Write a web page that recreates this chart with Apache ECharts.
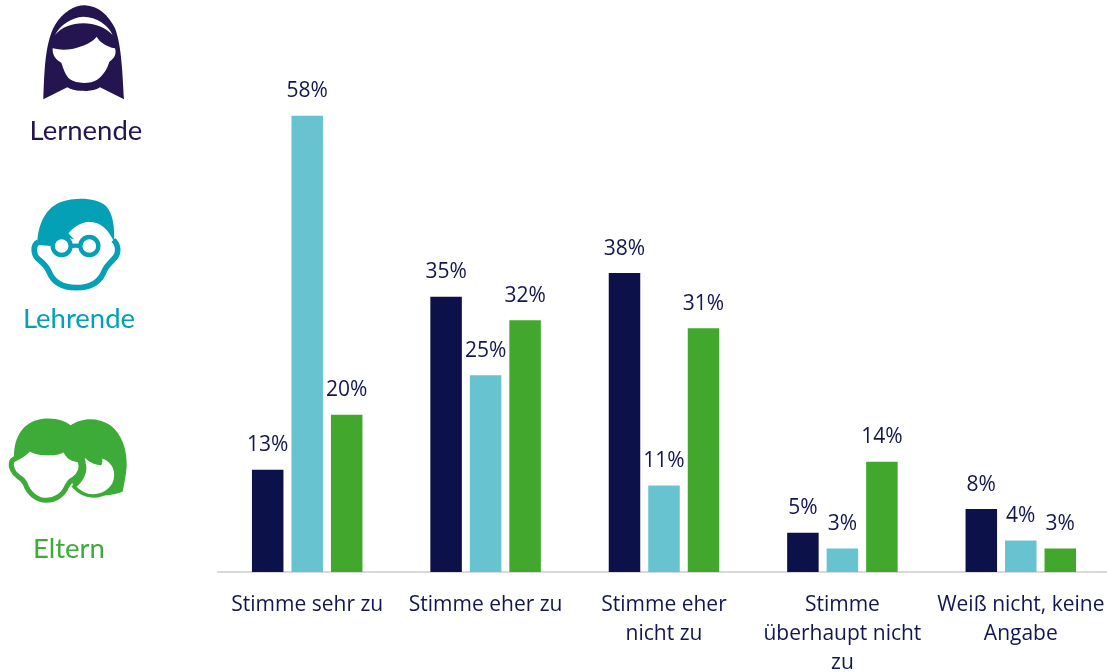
<!DOCTYPE html>
<html><head><meta charset="utf-8">
<style>html,body{margin:0;padding:0;background:#fff}#c{width:1107px;height:672px}</style>
<script src="https://cdn.jsdelivr.net/npm/echarts@6/dist/echarts.min.js"></script></head>
<body><div id="c"></div>
<script>
const categories = ['Stimme sehr zu','Stimme eher zu','Stimme eher\nnicht zu','Stimme\nüberhaupt nicht\nzu','Weiß nicht, keine\nAngabe'];
const lernende = [13,35,38,5,8];
const lehrende = [58,25,11,3,4];
const eltern = [20,32,31,14,3];
const navy='#0d1149', teal='#67c3cf', green='#42a72d', ink='#14174f';
const purple='#24144f', tealIcon='#03a0b6', greenIcon='#3dab38';
const chart = echarts.init(document.getElementById('c'),null,{renderer:'canvas'});
const ser=(name,data,color)=>({name,type:'bar',data,barWidth:31.5,barGap:'25.4%',itemStyle:{color},
  label:{show:true,position:'top',distance:14,formatter:'{c}%',color:ink,fontFamily:'Open Sans',fontSize:21}});
let shapeCount=0;
const p=(x,y,d,style)=>{
  const name='icon'+(shapeCount++);
  echarts.graphic.registerShape(name,echarts.graphic.extendPath(d,{}));
  return {type:name,x,y,scaleX:1/3,scaleY:1/3,silent:true,style};
};
const F=c=>({fill:c});
const S=(c,w,f)=>({fill:f||'none',stroke:c,lineWidth:w});
const label=(t,x,y,c)=>({type:'text',x,y,silent:true,style:{text:t,fill:c,fontFamily:'Lato',fontWeight:400,fontSize:27.5,align:'center',verticalAlign:'middle'}});
const graphic=[
 // Lernende
 p(0,0,'M130 298C133 230 133 130 165 75C190 35 225 15 255 16C295 18 325 45 345 85C365 135 368 230 372 298L300 262C285 272 265 274 250 272C232 274 215 270 202 262Z',F(purple)),
 p(0,0,'M165 105C180 75 215 52 250 50C290 50 325 75 338 105C315 82 285 70 250 70C215 70 185 82 165 105Z',F('#fff')),
 p(0,0,'M158 145C185 152 215 150 240 140C265 132 280 122 290 110C298 125 318 140 345 145C350 160 345 175 328 185C322 205 312 225 290 240C272 252 228 252 210 238C195 225 190 205 184 188C168 180 156 165 158 145Z',F('#fff')),
 label('Lernende',86,131,purple),
 // Lehrende
 p(0,180,'M112 195C112 130 140 80 185 65C225 52 290 52 318 78C338 100 345 140 342 185C325 150 305 125 265 125C240 128 220 142 205 160L222 178L190 170C170 172 155 185 155 198L112 195Z',F(tealIcon)),
 p(0,180,'M115 186C98 195 98 225 118 240C130 250 140 258 147 275C160 308 190 323 228 323C270 323 300 308 313 272C320 255 330 250 340 238C358 222 357 195 340 180',S(tealIcon,17)),
 p(0,180,'M212 198A27 27 0 1 1 158 198A27 27 0 1 1 212 198ZM295 198A27 27 0 1 1 241 198A27 27 0 1 1 295 198ZM208 200C220 196 232 196 245 200',S(tealIcon,13)),
 label('Lehrende',79,319,tealIcon),
 // Eltern
 p(0,400,'M42 170C42 110 70 65 125 57C165 52 195 62 212 76C240 55 290 48 330 75C365 100 382 150 380 200C378 225 372 255 368 275C340 285 300 290 270 285L220 260L200 180Z',F(greenIcon)),
 p(0,400,'M240 148C255 170 275 190 300 190C303 182 302 175 298 168C322 172 348 190 348 225C348 262 315 288 280 288C255 288 235 275 222 260C245 240 258 215 252 190C250 175 245 160 240 148Z',S(greenIcon,11,'#fff')),
 p(0,400,'M88 145C110 160 165 165 195 147C200 165 215 178 238 180C250 200 240 225 220 238C210 242 205 250 200 260C190 285 165 301 140 301C110 301 85 280 75 250C70 240 65 235 55 230C40 220 30 200 35 185C40 172 60 178 88 145Z',S(greenIcon,15,'#fff')),
 label('Eltern',69,549,greenIcon)
];
chart.setOption({
 animation:false,
 backgroundColor:'#fff',
 graphic,
 grid:{left:218,top:100,width:892,height:472,containLabel:false,outerBoundsMode:'none'},
 xAxis:{type:'category',data:categories,
  axisLine:{lineStyle:{color:'#d9d9d9',width:2}},axisTick:{show:false},
  axisLabel:{color:ink,fontFamily:'Open Sans',fontSize:21,lineHeight:29,margin:19,interval:0}},
 yAxis:{type:'value',min:0,max:60,show:false,splitLine:{show:false}},
 series:[ser('Lernende',lernende,navy),ser('Lehrende',lehrende,teal),ser('Eltern',eltern,green)]
});
</script></body></html>
